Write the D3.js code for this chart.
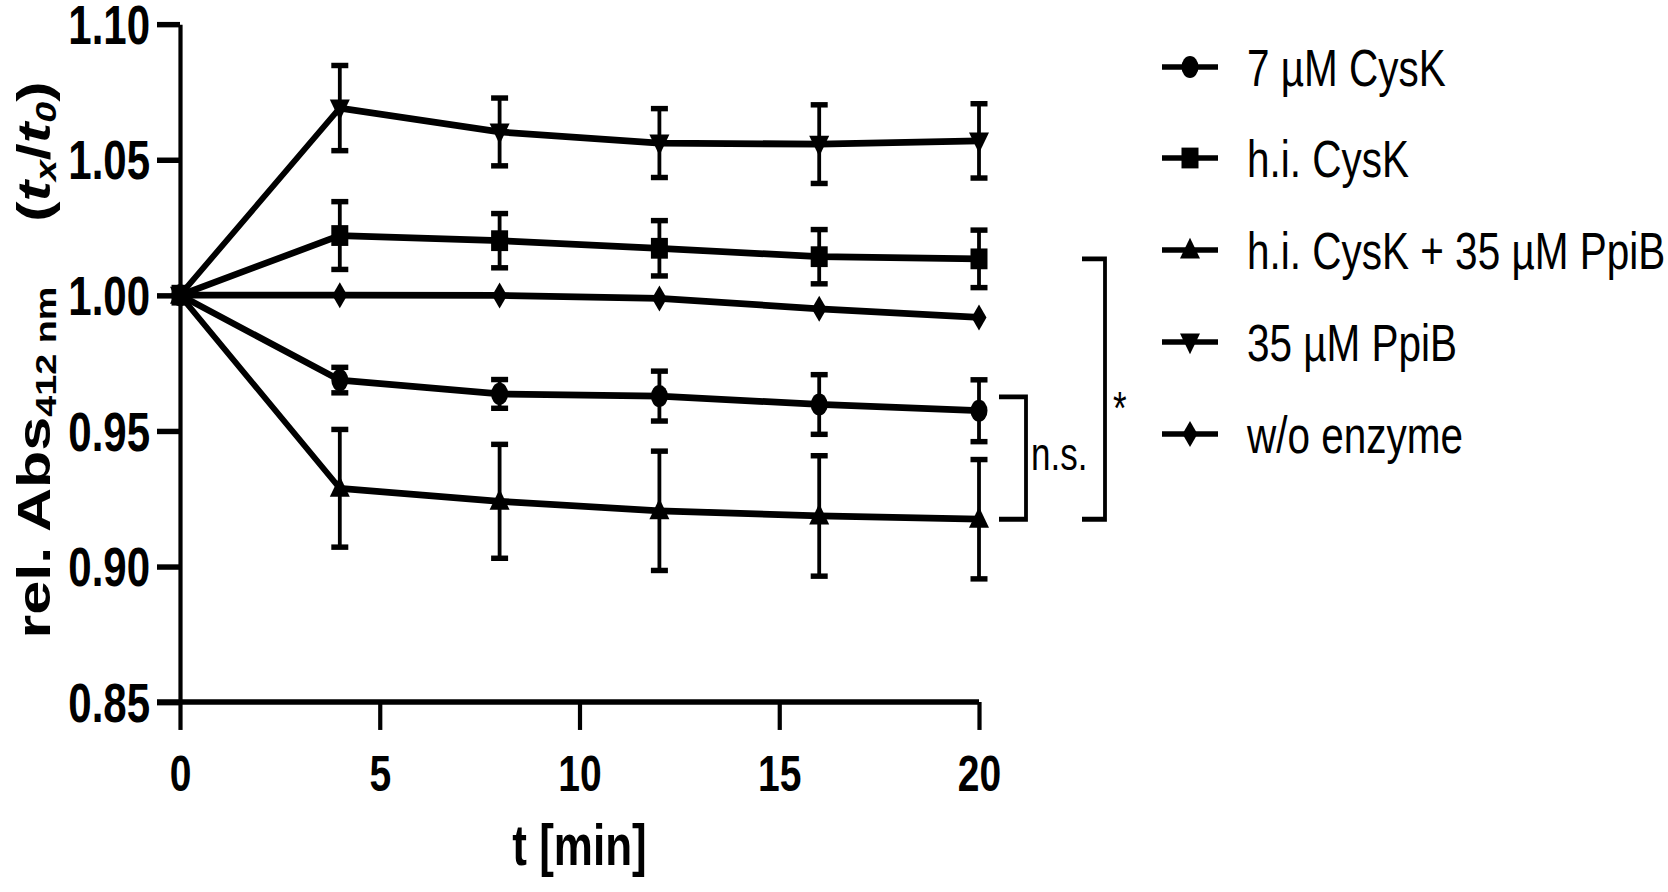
<!DOCTYPE html>
<html>
<head>
<meta charset="utf-8">
<script src="https://cdn.jsdelivr.net/npm/d3@7"></script>
<style>
  html, body { margin: 0; padding: 0; background: #fff; }
  svg { display: block; }
  text { font-family: "Liberation Sans", Arial, Helvetica, sans-serif; fill: #000; }
</style>
</head>
<body>
<svg id="chart"></svg>
<script>
// ---- data ----
const times = [0, 4, 8, 12, 16, 20];
const seriesNames = ["7 µM CysK", "h.i. CysK", "h.i. CysK + 35 µM PpiB", "35 µM PpiB", "w/o enzyme"];
const seriesSymbols = ["circle", "square", "triangleUp", "triangleDown", "diamond"];
const cysK7 = [1.000, 0.9687, 0.9636, 0.9628, 0.9597, 0.9574];
const cysK7Err = [0, 0.0047, 0.0053, 0.0092, 0.0110, 0.0114];
const hiCysK = [1.000, 1.0220, 1.0201, 1.0173, 1.0142, 1.0134];
const hiCysKErr = [0, 0.0125, 0.0100, 0.0102, 0.0100, 0.0106];
const hiCysKPpiB = [1.000, 0.9288, 0.9240, 0.9205, 0.9186, 0.9174];
const hiCysKPpiBErr = [0, 0.0217, 0.0210, 0.0220, 0.0222, 0.0220];
const ppiB = [1.000, 1.0690, 1.0602, 1.0561, 1.0557, 1.0569];
const ppiBErr = [0, 0.0157, 0.0125, 0.0127, 0.0145, 0.0137];
const woEnzyme = [1.000, 1.0000, 0.9999, 0.9988, 0.9950, 0.9918];
const woEnzymeErr = [0, 0, 0, 0, 0, 0];
const xTicks = [0, 5, 10, 15, 20];
const yTicks = [0.85, 0.90, 0.95, 1.00, 1.05, 1.10];
const nsBracket = [0.9625, 0.9174];
const starBracket = [1.0134, 0.9174];

const allValues = [cysK7, hiCysK, hiCysKPpiB, ppiB, woEnzyme];
const allErrors = [cysK7Err, hiCysKErr, hiCysKPpiBErr, ppiBErr, woEnzymeErr];
const series = seriesNames.map((name, i) => ({
  name, symbol: seriesSymbols[i],
  points: times.map((t, j) => ({ t, v: allValues[i][j], e: allErrors[i][j] }))
}));

// ---- layout (figure is vertically stretched) ----
const K = 1.3;
const W = 1668, H = 892 / K;
const svg = d3.select("#chart")
  .attr("width", 1668).attr("height", 892)
  .attr("viewBox", `0 0 ${W} ${H}`)
  .attr("preserveAspectRatio", "none");

const x = d3.scaleLinear().domain([0, 20]).range([180, 979]);
const y = d3.scaleLinear().domain([0.85, 1.10]).range([702 / K, 24 / K]);

const symbolPath = {
  circle: "M8.5,0A8.5,8.5 0 1,1 -8.5,0A8.5,8.5 0 1,1 8.5,0Z",
  square: "M-8.5,-8H8.5V8H-8.5Z",
  triangleUp: "M0,-9.5L10,6.5L-10,6.5Z",
  triangleDown: "M0,9.5L10,-6.5L-10,-6.5Z",
  diamond: "M0,-10L7.5,0L0,10L-7.5,0Z"
};

// ---- axes ----
const yAxis = d3.axisLeft(y).tickValues(yTicks).tickFormat(d3.format(".2f"))
  .tickSize(23).tickSizeOuter(0).tickPadding(7);
const gy = svg.append("g").attr("transform", `translate(${x(0)},0)`).call(yAxis);
gy.select(".domain").attr("stroke", "#000").attr("stroke-width", 4.2);
gy.selectAll(".tick line").attr("stroke", "#000").attr("stroke-width", 4.2);
gy.selectAll(".tick text").attr("font-size", 42).attr("font-weight", "bold")
  .attr("dy", null).attr("y", 14.8);

const xAxis = d3.axisBottom(x).tickValues(xTicks).tickFormat(d3.format("d"))
  .tickSize(21.5).tickSizeOuter(0).tickPadding(19);
const gx = svg.append("g").attr("transform", `translate(0,${y(0.85)})`).call(xAxis);
gx.select(".domain").attr("stroke", "#000").attr("stroke-width", 4.4)
  .attr("d", `M${x(0) - 23},0H${x(20)}`);
gx.selectAll(".tick line").attr("stroke", "#000").attr("stroke-width", 4.2);
gx.selectAll(".tick text").attr("font-size", 39).attr("font-weight", "bold");

// axis titles
svg.append("text").attr("x", (x(0) + x(20)) / 2).attr("y", 865 / K)
  .attr("text-anchor", "middle").attr("font-size", 44).attr("font-weight", "bold")
  .text("t [min]");

const yl = svg.append("text")
  .attr("transform", `translate(50,${360 / K}) rotate(-90)`)
  .attr("text-anchor", "middle").attr("font-size", 47).attr("font-weight", "bold");
yl.append("tspan").text("rel. Abs");
yl.append("tspan").attr("font-size", 29).attr("dy", 6).text("412 nm");
yl.append("tspan").attr("dy", -6).attr("dx", 50).text("(");
yl.append("tspan").attr("font-style", "italic").text("t");
yl.append("tspan").attr("font-style", "italic").attr("font-size", 29).attr("dy", 6).text("x");
yl.append("tspan").attr("dy", -6).text("/");
yl.append("tspan").attr("font-style", "italic").text("t");
yl.append("tspan").attr("font-style", "italic").attr("font-size", 29).attr("dy", 6).text("0");
yl.append("tspan").attr("dy", -6).text(")");

// ---- data marks ----
const line = d3.line().x(d => x(d.t)).y(d => y(d.v));
const gs = svg.append("g");
gs.selectAll("path.series").data(series).join("path")
  .attr("class", "series").attr("d", d => line(d.points))
  .attr("fill", "none").attr("stroke", "#000").attr("stroke-width", 5.2)
  .attr("stroke-linejoin", "round");

const errPts = series.flatMap(s => s.points.filter(p => p.e > 0));
const ge = svg.append("g");
ge.selectAll("line.ev").data(errPts).join("line")
  .attr("x1", d => x(d.t)).attr("x2", d => x(d.t))
  .attr("y1", d => y(d.v - d.e)).attr("y2", d => y(d.v + d.e))
  .attr("stroke", "#000").attr("stroke-width", 3.8);
ge.selectAll("line.cap-top").data(errPts).join("line")
  .attr("x1", d => x(d.t) - 8.5).attr("x2", d => x(d.t) + 8.5)
  .attr("y1", d => y(d.v + d.e)).attr("y2", d => y(d.v + d.e))
  .attr("stroke", "#000").attr("stroke-width", 4.2);
ge.selectAll("line.cap-bot").data(errPts).join("line")
  .attr("x1", d => x(d.t) - 8.5).attr("x2", d => x(d.t) + 8.5)
  .attr("y1", d => y(d.v - d.e)).attr("y2", d => y(d.v - d.e))
  .attr("stroke", "#000").attr("stroke-width", 4.2);

series.forEach(s => {
  svg.append("g").selectAll("path").data(s.points).join("path")
    .attr("transform", d => `translate(${x(d.t)},${y(d.v)})`)
    .attr("d", symbolPath[s.symbol]).attr("fill", "#000");
});

// ---- significance brackets ----
function bracket(vals, xa, xb, label, lx, ly, fs) {
  const g = svg.append("g");
  g.append("path")
    .attr("d", `M${xa},${y(vals[0])}H${xb}V${y(vals[1])}H${xa}`)
    .attr("fill", "none").attr("stroke", "#000").attr("stroke-width", 3.8);
  g.append("text").attr("x", lx).attr("y", ly).attr("font-size", fs).text(label);
}
bracket(nsBracket, 999, 1026, "n.s.", 1031, 470 / K, 35);
bracket(starBracket, 1082, 1105, "*", 1113, 424 / K, 35);

// ---- legend ----
const legY = [67, 158, 250, 342, 434].map(v => v / K);
const lg = svg.append("g");
series.forEach((s, i) => {
  const g = lg.append("g").attr("transform", `translate(0,${legY[i]})`);
  g.append("line").attr("x1", 1162).attr("x2", 1218).attr("y1", 0).attr("y2", 0)
    .attr("stroke", "#000").attr("stroke-width", 4.2);
  g.append("path").attr("transform", "translate(1190,0)").attr("d", symbolPath[s.symbol]).attr("fill", "#000");
  g.append("text").attr("x", 1247).attr("y", 14.5).attr("font-size", 40.5).text(s.name);
});
</script>
</body>
</html>
